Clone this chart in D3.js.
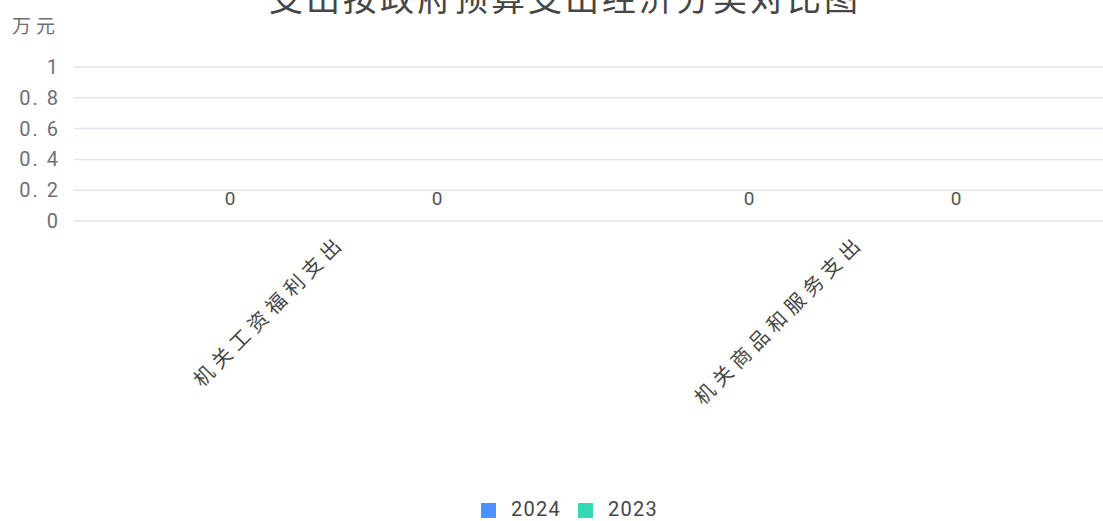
<!DOCTYPE html>
<html>
<head>
<meta charset="utf-8">
<script src="https://cdn.jsdelivr.net/npm/d3@7"></script>
<style>
  body { margin: 0; background: #fff; overflow: hidden; }
  text { font-family: Roboto, "Noto Sans CJK SC", sans-serif; }
</style>
</head>
<body>
<div id="chart-area"></div>
<script>
const title = '支出按政府预算支出经济分类对比图';
const unit = '万元';
const categories = ['机关工资福利支出', '机关商品和服务支出'];
const seriesNames = ['2024', '2023'];
const values2024 = [0, 0];
const values2023 = [0, 0];
const yTicks = [0, 0.2, 0.4, 0.6, 0.8, 1];
const colors = ['#4992ff', '#34d9b6'];

const width = 1103, height = 521;
const svg = d3.select('#chart-area').append('svg')
    .attr('width', width)
    .attr('height', height);

// title, mostly cut off at the top
svg.append('text')
    .attr('x', 565)
    .attr('y', 11)
    .attr('text-anchor', 'middle')
    .attr('font-size', 34)
    .attr('letter-spacing', 3)
    .attr('fill', '#464646')
    .text(title);

const x = d3.scaleBand()
    .domain(categories)
    .range([74, 1112]);
const xSub = d3.scaleBand()
    .domain(seriesNames)
    .range([0, x.bandwidth()])
    .paddingInner(0.2)
    .paddingOuter(0.3536);
const y = d3.scaleLinear()
    .domain([0, 1])
    .range([221, 67]);

// grid lines
svg.append('g').selectAll('line')
    .data(yTicks)
    .join('line')
    .attr('x1', 74)
    .attr('x2', 1112)
    .attr('y1', d => y(d))
    .attr('y2', d => y(d))
    .attr('stroke', '#e0e6f1')
    .attr('stroke-width', 1.5);

// y tick labels
const yAxis = d3.axisLeft(y)
    .tickValues(yTicks)
    .tickSize(0)
    .tickPadding(0)
    .tickFormat(d => d === 0 || d === 1 ? String(d) : d3.format('.1f')(d).replace('.', '. '));
const yg = svg.append('g')
    .attr('transform', 'translate(60,0)')
    .call(yAxis);
yg.select('.domain').remove();
yg.selectAll('text')
    .attr('font-size', 20)
    .attr('letter-spacing', 2)
    .attr('fill', '#6e7079')
    .attr('font-family', 'Roboto, "Noto Sans CJK SC", sans-serif');

svg.append('text')
    .attr('x', 12)
    .attr('y', 28)
    .attr('dominant-baseline', 'middle')
    .attr('font-size', 19)
    .attr('letter-spacing', 5)
    .attr('fill', '#6e7079')
    .text(unit);

// bars (zero height) and value labels
const series = [values2024, values2023];
series.forEach((vals, i) => {
    const g = svg.append('g');
    g.selectAll('rect')
        .data(vals)
        .join('rect')
        .attr('x', (d, j) => x(categories[j]) + xSub(seriesNames[i]))
        .attr('width', xSub.bandwidth())
        .attr('y', d => y(d))
        .attr('height', d => y(0) - y(d))
        .attr('fill', colors[i]);
    g.selectAll('text')
        .data(vals)
        .join('text')
        .attr('x', (d, j) => x(categories[j]) + xSub(seriesNames[i]) + xSub.bandwidth() / 2)
        .attr('y', d => y(d) - 21)
        .attr('text-anchor', 'middle')
        .attr('dominant-baseline', 'middle')
        .attr('font-size', 19)
        .attr('fill', '#555')
        .text(d => d);
});

// x axis labels rotated
const xAxis = d3.axisBottom(x).tickSize(0).tickPadding(0);
const xg = svg.append('g')
    .attr('transform', `translate(0, ${y(0)})`)
    .call(xAxis);
xg.select('.domain').remove();
xg.selectAll('text')
    .attr('font-size', 20)
    .attr('letter-spacing', 5.5)
    .attr('fill', '#464646')
    .attr('font-family', 'Roboto, "Noto Sans CJK SC", sans-serif')
    .attr('text-anchor', 'end')
    .attr('dy', null)
    .attr('dominant-baseline', 'middle')
    .attr('transform', 'translate(9,19) rotate(-45)');

// legend
const legend = svg.append('g').attr('transform', 'translate(481,503)');
seriesNames.forEach((name, i) => {
    const lg = legend.append('g').attr('transform', `translate(${i * 97},0)`);
    lg.append('rect')
        .attr('width', 15)
        .attr('height', 15)
        .attr('fill', colors[i]);
    lg.append('text')
        .attr('x', 30)
        .attr('y', 8)
        .attr('dominant-baseline', 'middle')
        .attr('font-size', 20)
        .attr('letter-spacing', 1.3)
        .attr('fill', '#464646')
        .text(name);
});
</script>
</body>
</html>
